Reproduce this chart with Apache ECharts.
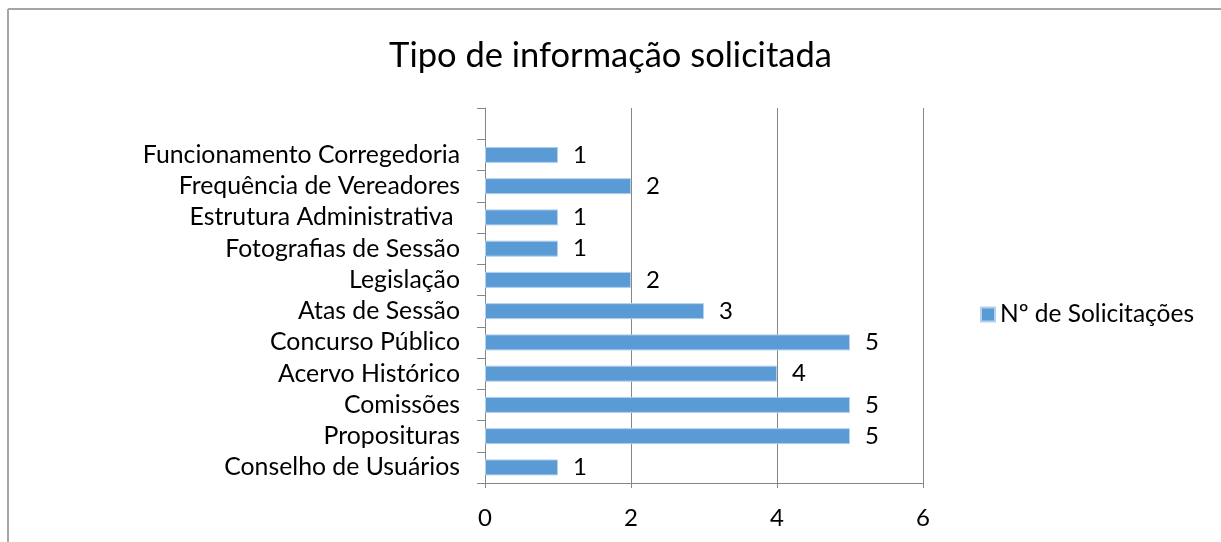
<!DOCTYPE html>
<html>
<head>
    <meta charset="UTF-8">
    <title>Tipo de informação solicitada</title>
    <script type="text/javascript" src="https://cdn.jsdelivr.net/npm/echarts@6/dist/echarts.min.js"></script>
    <style>
        body {
            margin: 0;
            padding: 0;
            background-color: #fff;
        }

        #chart {
            width: 1221px;
            height: 542px;
        }
    </style>
</head>
<body>
<div id="chart"></div>

<script>
    // categorias de baixo para cima (a ultima fica vazia, como no original)
    var categorias = [
        'Conselho de Usuários',
        'Proposituras',
        'Comissões',
        'Acervo Histórico',
        'Concurso Público',
        'Atas de Sessão',
        'Legislação',
        'Fotografias de Sessão',
        'Estrutura Administrativa ',
        'Frequência de Vereadores',
        'Funcionamento Corregedoria',
        ''
    ];
    var solicitacoes = [1, 5, 5, 4, 5, 3, 2, 1, 1, 2, 1, '-'];
    var ticksX = [0, 2, 4, 6];

    var fonte = 'Lato';
    var cinza = '#868686';
    var tam = 24;

    var chart = echarts.init(document.getElementById('chart'), null, {renderer: 'canvas'});

    chart.setOption({
        animation: false,
        textStyle: {fontFamily: fonte, color: '#000'},
        title: {
            text: 'Tipo de informação solicitada',
            left: 'center',
            top: 33,
            textStyle: {fontFamily: fonte, fontSize: 34.5, fontWeight: 'normal', color: '#000'}
        },
        legend: {
            data: ['Nº de Solicitações'],
            orient: 'vertical',
            left: 975,
            top: 297,
            icon: 'rect',
            itemWidth: 14,
            itemHeight: 14,
            itemGap: 6,
            textStyle: {fontFamily: fonte, fontSize: 24.5, color: '#000'}
        },
        grid: {left: 485, right: 298, top: 108, bottom: 59, containLabel: false},
        xAxis: {
            type: 'value',
            min: ticksX[0],
            max: ticksX[ticksX.length - 1],
            interval: 2,
            axisLine: {show: true, lineStyle: {color: cinza}},
            axisTick: {show: true, length: 5, lineStyle: {color: cinza}},
            axisLabel: {fontFamily: fonte, fontSize: tam, color: '#000', margin: 23},
            splitLine: {show: true, lineStyle: {color: cinza, width: 1}}
        },
        yAxis: {
            type: 'category',
            data: categorias,
            axisLine: {show: true, lineStyle: {color: cinza}},
            axisTick: {show: true, length: 8, interval: 0, lineStyle: {color: cinza}},
            axisLabel: {
                interval: 0,
                hideOverlap: false,
                fontFamily: fonte,
                fontSize: 24.8,
                lineHeight: 26,
                color: '#000',
                margin: 25
            }
        },
        series: [{
            name: 'Nº de Solicitações',
            type: 'bar',
            data: solicitacoes,
            barWidth: 16,
            itemStyle: {color: '#5b9bd5', borderColor: '#b4d0ee', borderWidth: 1},
            label: {
                show: true,
                position: 'right',
                distance: 15,
                fontFamily: fonte,
                fontSize: tam,
                color: '#000'
            }
        }],
        graphic: [
            {type: 'line', shape: {x1: 8, y1: 9, x2: 1221, y2: 9}, style: {stroke: '#a6a6a6', lineWidth: 2}},
            {type: 'line', shape: {x1: 8, y1: 9, x2: 8, y2: 542}, style: {stroke: '#a6a6a6', lineWidth: 2}}
        ]
    });
</script>
</body>
</html>
